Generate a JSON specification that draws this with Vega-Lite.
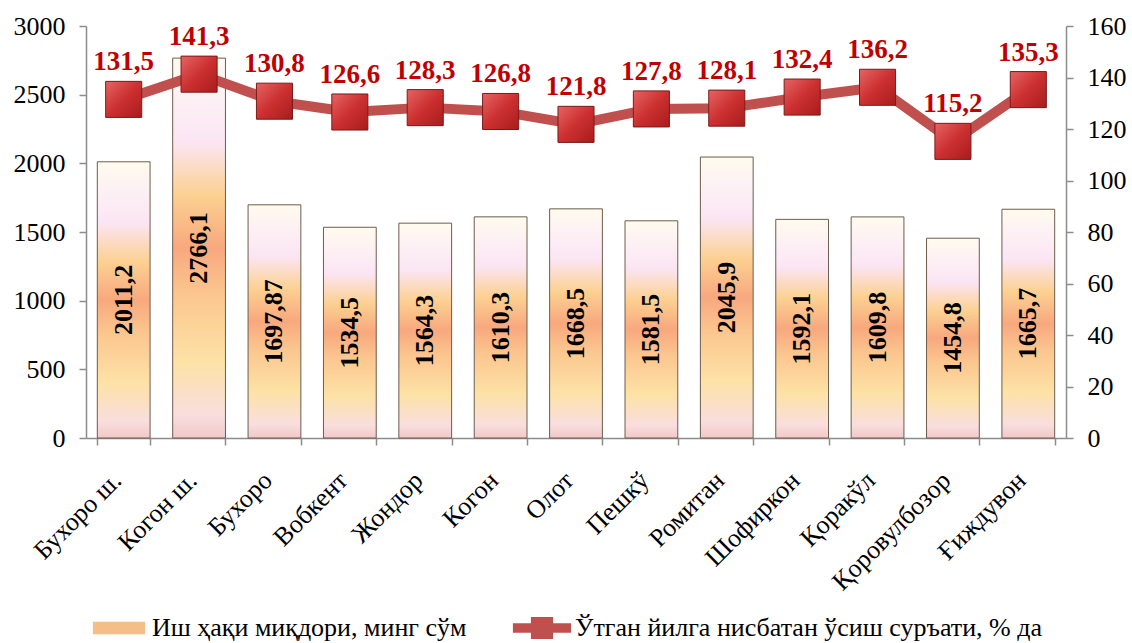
{
  "$schema": "https://vega.github.io/schema/vega-lite/v6.json",
  "width": 980,
  "height": 412,
  "autosize": {"type": "none"},
  "padding": {"left": 86, "top": 26, "right": 66, "bottom": 205},
  "background": "white",
  "config": {
    "locale": {"number": {"decimal": ",", "thousands": " ", "grouping": [3], "currency": ["", ""]}},
    "view": {"stroke": null},
    "font": "Liberation Serif",
    "legend": {
      "title": null,
      "orient": "none",
      "direction": "horizontal",
      "padding": 0,
      "symbolSize": 3600,
      "symbolStrokeWidth": 0,
      "symbolOpacity": 1,
      "labelFont": "Liberation Serif",
      "labelFontSize": 26,
      "labelColor": "#000000",
      "labelLimit": 1000,
      "labelOffset": 3
    },
    "axis": {
      "domainColor": "#8c8c8c",
      "domainWidth": 1.5,
      "tickColor": "#8c8c8c",
      "tickWidth": 1.5,
      "tickSize": 7,
      "grid": false,
      "labelFont": "Liberation Serif",
      "labelColor": "#000000",
      "title": null
    }
  },
  "data": {
    "values": [
      {"district": "Бухоро ш.", "wage": 2011.2, "growth": 131.5},
      {"district": "Когон ш.", "wage": 2766.1, "growth": 141.3},
      {"district": "Бухоро", "wage": 1697.87, "growth": 130.8},
      {"district": "Вобкент", "wage": 1534.5, "growth": 126.6},
      {"district": "Жондор", "wage": 1564.3, "growth": 128.3},
      {"district": "Когон", "wage": 1610.3, "growth": 126.8},
      {"district": "Олот", "wage": 1668.5, "growth": 121.8},
      {"district": "Пешкў", "wage": 1581.5, "growth": 127.8},
      {"district": "Ромитан", "wage": 2045.9, "growth": 128.1},
      {"district": "Шофиркон", "wage": 1592.1, "growth": 132.4},
      {"district": "Қоракўл", "wage": 1609.8, "growth": 136.2},
      {"district": "Қоровулбозор", "wage": 1454.8, "growth": 115.2},
      {"district": "Ғиждувон", "wage": 1665.7, "growth": 135.3}
    ]
  },
  "encoding": {
    "x": {
      "field": "district",
      "type": "nominal",
      "sort": null,
      "scale": {"paddingInner": 0.3, "paddingOuter": 0.15},
      "axis": {
        "labelAngle": -45,
        "labelAlign": "right",
        "labelBaseline": "middle",
        "labelFont": "Liberation Serif",
        "labelFontSize": 26,
        "tickBand": "extent",
        "labelPadding": 31,
        "labelOffset": -7,
        "title": null
      }
    }
  },
  "layer": [
    {
      "encoding": {
        "y": {
          "field": "wage",
          "type": "quantitative",
          "scale": {"domain": [0, 3000], "nice": false},
          "axis": {
            "orient": "left",
            "values": [0, 500, 1000, 1500, 2000, 2500, 3000],
            "format": "d",
            "labelFont": "Liberation Serif",
            "labelFontSize": 26,
            "labelPadding": 14,
            "title": null
          }
        }
      },
      "layer": [
        {
          "mark": {
            "type": "bar",
            "fill": {
              "gradient": "linear",
              "x1": 0, "y1": 0, "x2": 0, "y2": 1,
              "stops": [
                {"offset": 0, "color": "#fffbee"},
                {"offset": 0.1, "color": "#fdf1f4"},
                {"offset": 0.22, "color": "#fbe5f4"},
                {"offset": 0.36, "color": "#fcd192"},
                {"offset": 0.5, "color": "#f8a87e"},
                {"offset": 0.62, "color": "#fbc68f"},
                {"offset": 0.8, "color": "#fde2a6"},
                {"offset": 0.94, "color": "#f9dede"},
                {"offset": 1, "color": "#f2c8c8"}
              ]
            },
            "stroke": "#6e5c4e",
            "strokeWidth": 1
          },
          "encoding": {
            "color": {
              "datum": "Иш ҳақи миқдори, минг сўм",
              "scale": {
                "domain": ["Иш ҳақи миқдори, минг сўм"],
                "range": ["#f5bd88"]
              },
              "legend": {
                "legendX": 3,
                "legendY": 572,
                "symbolType": "M-0.87,-0.21H0.87V0.21H-0.87Z"
              }
            }
          }
        },
        {
          "transform": [{"calculate": "datum.wage / 2", "as": "mid"}],
          "mark": {
            "type": "text",
            "angle": 270,
            "align": "center",
            "baseline": "middle",
            "fontSize": 26,
            "fontWeight": "bold",
            "font": "Liberation Serif",
            "color": "#000000"
          },
          "encoding": {
            "y": {"field": "mid", "type": "quantitative"},
            "text": {"field": "wage", "type": "quantitative", "format": "~f"}
          }
        }
      ]
    },
    {
      "encoding": {
        "y": {
          "field": "growth",
          "type": "quantitative",
          "scale": {"domain": [0, 160], "nice": false},
          "axis": {
            "orient": "right",
            "values": [0, 20, 40, 60, 80, 100, 120, 140, 160],
            "format": "d",
            "labelFont": "Liberation Serif",
            "labelFontSize": 26,
            "labelPadding": 14,
            "title": null
          }
        }
      },
      "layer": [
        {
          "mark": {"type": "line", "stroke": "#c0504d", "strokeWidth": 10, "strokeJoin": "round"},
          "encoding": {}
        },
        {
          "mark": {
            "type": "point",
            "shape": "square",
            "size": 1300,
            "filled": true,
            "fill": {
              "gradient": "linear",
              "x1": 0, "y1": 0, "x2": 1, "y2": 1,
              "stops": [
                {"offset": 0, "color": "#e66464"},
                {"offset": 0.5, "color": "#cc3030"},
                {"offset": 1, "color": "#a81c1c"}
              ]
            },
            "stroke": "#7a1a1a",
            "strokeWidth": 1,
            "opacity": 1
          },
          "encoding": {
            "color": {
              "datum": "Ўтган йилга нисбатан ўсиш суръати, % да",
              "scale": {
                "domain": ["Ўтган йилга нисбатан ўсиш суръати, % да"],
                "range": ["#c0504d"]
              },
              "legend": {
                "legendX": 426,
                "legendY": 572,
                "symbolType": "M-0.97,-0.16H0.97V0.16H-0.97Z M-0.37,-0.37H0.37V0.37H-0.37Z"
              }
            }
          }
        },
        {
          "mark": {
            "type": "text",
            "dy": -37,
            "align": "center",
            "baseline": "middle",
            "fontSize": 27,
            "fontWeight": "bold",
            "font": "Liberation Serif",
            "color": "#c00000"
          },
          "encoding": {
            "text": {"field": "growth", "type": "quantitative", "format": ".1f"}
          }
        }
      ]
    }
  ],
  "resolve": {
    "scale": {"y": "independent", "color": "independent"},
    "legend": {"color": "independent"}
  }
}
